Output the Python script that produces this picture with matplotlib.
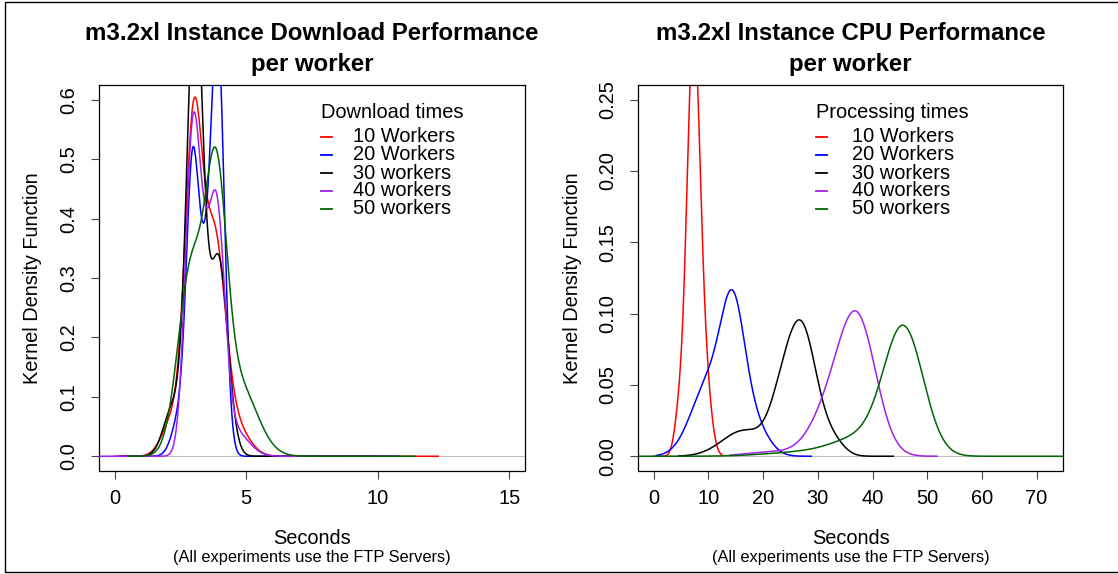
import numpy as np
import matplotlib
matplotlib.use('Agg')
import matplotlib.pyplot as plt
from matplotlib.patches import Rectangle
from matplotlib.lines import Line2D

plt.rcParams['font.family'] = ['Liberation Sans', 'DejaVu Sans']

W, H = 1118, 574

labels = ['10 Workers', '20 Workers', '30 workers', '40 workers', '50 workers']
colors = ['#FF0000', '#0000FF', '#000000', '#A020F0', '#006400']

# download time densities: bumps (centre, spread, peak height)
dl_centers = [[3.0, 3.8, 2.2, 4.6],
              [2.93, 3.92, 3.35, 2.5],
              [3.05, 3.95, 2.2],
              [2.95, 3.9, 3.4, 4.6],
              [3.85, 2.9, 4.7]]
dl_spreads = [[0.33, 0.4, 0.4, 0.5],
              [0.22, 0.25, 0.3, 0.3],
              [0.3, 0.35, 0.35],
              [0.28, 0.3, 0.3, 0.5],
              [0.4, 0.5, 0.7]]
dl_heights = [[0.544, 0.349, 0.06, 0.048],
              [0.38, 0.68, 0.28, 0.07],
              [0.798, 0.33, 0.08],
              [0.5, 0.37, 0.2, 0.04],
              [0.41, 0.31, 0.12]]
dl_ranges = [(0.0, 12.3), (0.4, 10.8), (0.2, 9.9), (-0.6, 10.5), (0.5, 11.4)]

# processing time densities
cpu_centers = [[7.3, 9.8, 4.5],
               [14.5, 10.0, 18.5],
               [27.0, 23.0, 16.5, 33.0],
               [37.3, 32.0, 22.0],
               [45.7, 38.0, 28.0]]
cpu_spreads = [[1.25, 1.0, 0.8],
               [2.2, 3.2, 2.5],
               [2.8, 2.2, 4.0, 2.0],
               [3.4, 3.5, 5.0],
               [3.6, 5.0, 7.0]]
cpu_heights = [[0.30, 0.03, 0.02],
               [0.092, 0.05, 0.02],
               [0.09, 0.022, 0.018, 0.008],
               [0.092, 0.028, 0.003],
               [0.088, 0.012, 0.003]]
cpu_ranges = [(0.0, 12.5), (0.5, 28.8), (4.5, 43.8), (14.0, 51.8), (-2.9, 74.9)]


def density(centers, spreads, heights, lo, hi):
    x = np.linspace(lo, hi, 600)
    y = np.zeros_like(x)
    for c, s, h in zip(centers, spreads, heights):
        y += h * np.exp(-0.5 * ((x - c) / s) ** 2)
    return x, y


def fx(px):
    return px / W


def fy(py):
    return 1 - py / H


fig = plt.figure(figsize=(W / 100, H / 100), dpi=100)
fig.add_artist(Rectangle((fx(5), fy(572)), 1.2, (572 - 2) / H, transform=fig.transFigure,
                         fill=False, edgecolor='black', lw=1.0))

ax1 = fig.add_axes([fx(99), fy(470.5), 426 / W, 385 / H])
ax2 = fig.add_axes([fx(638), fy(470.5), 425.3 / W, 385 / H])

panels = [
    (ax1, dl_centers, dl_spreads, dl_heights, dl_ranges, (-0.6, 15.6), (-0.024, 0.624),
     [0, 5, 10, 15], np.arange(0, 0.61, 0.1), '%.1f',
     ['m3.2xl Instance Download Performance', 'per worker'], 'Download times', 321, 353),
    (ax2, cpu_centers, cpu_spreads, cpu_heights, cpu_ranges, (-2.88, 74.88), (-0.01, 0.26),
     np.arange(0, 71, 10), np.arange(0, 0.251, 0.05), '%.2f',
     ['m3.2xl Instance CPU Performance', 'per worker'], 'Processing times', 816, 852),
]

for (ax, cs, ss, hs, rng, xl, yl, xt, yt, fmt, title, ltitle, lx, tx) in panels:
    ax.axhline(0, color='#BEBEBE', lw=0.8, zorder=1)
    for i in range(5):
        x, y = density(cs[i], ss[i], hs[i], rng[i][0], rng[i][1])
        ax.plot(x, y, color=colors[i], lw=1.1, zorder=2 + i)
    ax.set_xlim(*xl)
    ax.set_ylim(*yl)
    ax.set_xticks(xt)
    ax.set_xticklabels([str(int(v)) for v in xt])
    ax.set_yticks(yt)
    ax.set_yticklabels([fmt % v for v in yt], rotation=90, va='center')
    ax.tick_params(direction='out', length=6, width=0.8, labelsize=14.4, color='#444444')
    ax.tick_params(axis='x', pad=7)
    ax.tick_params(axis='y', pad=9)
    for sp in ax.spines.values():
        sp.set_linewidth(0.9)

    pos = ax.get_position()
    cx = (pos.x0 + pos.x1) / 2
    cy = (pos.y0 + pos.y1) / 2
    fig.text(cx, fy(33), title[0], ha='center', va='center', fontsize=17.3, fontweight='bold')
    fig.text(cx, fy(64), title[1], ha='center', va='center', fontsize=17.3, fontweight='bold')
    fig.text(cx, fy(538), 'Seconds', ha='center', va='center', fontsize=14.4)
    fig.text(cx, fy(557.5), '(All experiments use the FTP Servers)', ha='center', va='center',
             fontsize=11.8)
    fig.text(pos.x0 - 66 / W, cy, 'Kernel Density Function', ha='center', va='center',
             rotation=90, fontsize=14.4)

    # legend
    fig.text(fx(lx), fy(112), ltitle, ha='left', va='center', fontsize=14.4)
    rows = [137, 155, 173, 191, 209]
    for i in range(5):
        fig.add_artist(Line2D([fx(lx), fx(lx + 11)], [fy(rows[i]), fy(rows[i])],
                              transform=fig.transFigure, color=colors[i], lw=1.3))
        fig.text(fx(tx), fy(rows[i]), labels[i], ha='left', va='center', fontsize=14.4)

fig.savefig('out.png', dpi=100)
